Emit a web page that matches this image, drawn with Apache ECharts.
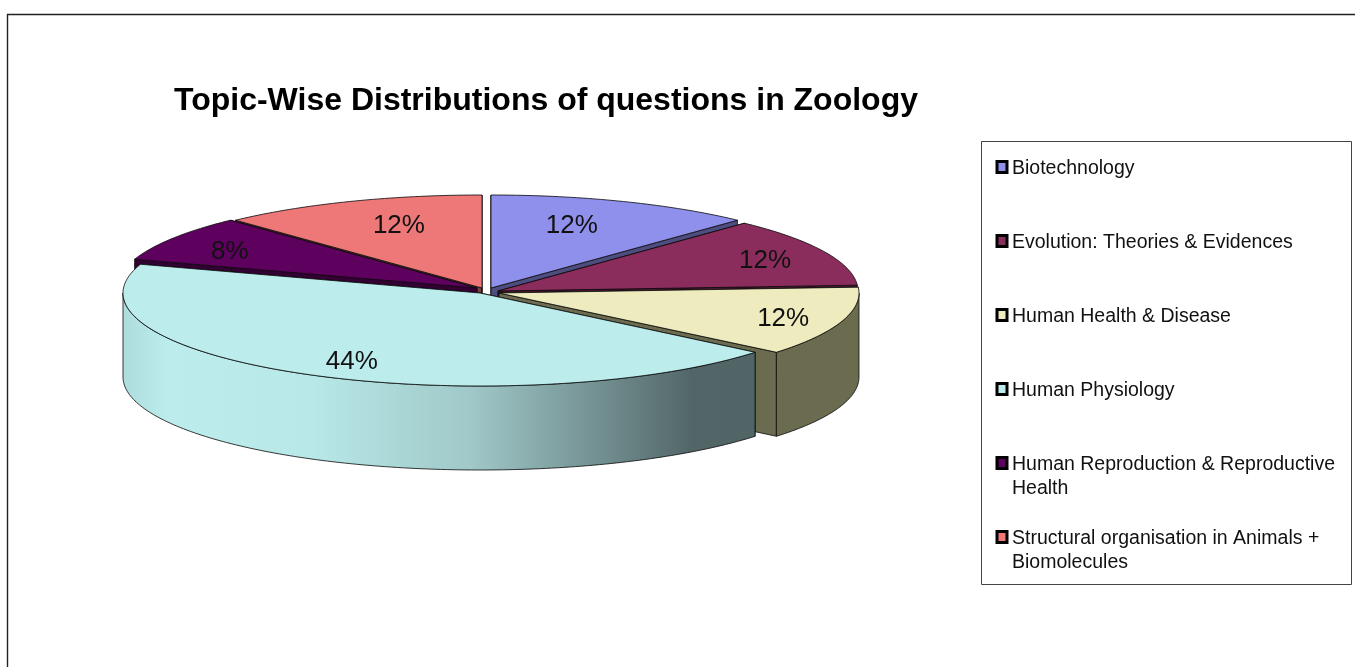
<!DOCTYPE html>
<html>
<head>
<meta charset="utf-8">
<script src="https://cdn.jsdelivr.net/npm/echarts@6/dist/echarts.min.js"></script>
<style>html,body{margin:0;padding:0;background:#fff}#c{width:1355px;height:667px}</style>
</head>
<body>
<div id="c"></div>
<script>
const titleText = 'Topic-Wise Distributions of questions in Zoology';
const categories = ['Biotechnology', 'Evolution: Theories & Evidences', 'Human Health & Disease', 'Human Physiology', 'Human Reproduction & Reproductive Health', 'Structural organisation in Animals + Biomolecules'];
const shares = [12, 12, 12, 44, 8, 12];

// styling and layout, separate from the data
const topColors = ['#8F8FEC', '#8B2D5C', '#EEECBE', '#BCECEC', '#5E005E', '#EE7777'];
const wallColors = ['#4D4D80', '#4B1832', '#6B6B50', '#516567', '#330033', '#803F3F'];
const sliceCentres = [[491, 288], [498, 291], [499, 293], [480, 293], [477, 288], [482, 288]];
const sliceRadiiX = [360, 360, 360, 357, 360, 360];
const labelFactors = [[.61, .717], [.82, .76], [.83, .905], [.745, .84], [.813, .72], [.627, .717]];
const paintOrder = [0, 5, 1, 4, 2, 3];
const radiusY = 93, depth = 84;

const total = shares.reduce((a, b) => a + b, 0);
const startAngles = [];
shares.reduce((acc, v, i) => { startAngles[i] = acc; return acc + v / total * 360; }, 0);

function rimPoint(i, deg, drop) {
  const t = deg * Math.PI / 180, c = sliceCentres[i];
  return [c[0] + sliceRadiiX[i] * Math.sin(t), c[1] - radiusY * Math.cos(t) + (drop || 0)];
}
function arcPoints(i, a, b, drop) {
  const pts = [], n = Math.max(2, Math.ceil(Math.abs(b - a)));
  for (let k = 0; k <= n; k++) pts.push(rimPoint(i, a + (b - a) * k / n, drop));
  return pts;
}
const edge = (fill) => ({ fill, stroke: 'rgba(10,10,10,0.8)', lineWidth: 1, lineJoin: 'round' });

function wallFill(i) {
  if (i !== 3) return wallColors[i];
  return new echarts.graphic.LinearGradient(0, 0, 1, 0, [
    { offset: 0, color: '#AEDCDC' }, { offset: 0.07, color: '#BCECEC' },
    { offset: 0.3, color: '#B8E8E8' }, { offset: 0.55, color: '#A0C8C8' },
    { offset: 0.9, color: '#526668' }, { offset: 1, color: wallColors[3] }
  ]);
}

function renderSlice(i) {
  const c = sliceCentres[i], a = startAngles[i], b = a + shares[i] / total * 360;
  const children = [];
  [a, b].forEach((deg) => {
    const p = rimPoint(i, deg);
    children.push({ type: 'polygon', shape: { points: [c, p, [p[0], p[1] + depth], [c[0], c[1] + depth]] }, style: edge(wallColors[i]) });
  });
  const fa = Math.max(a, 90), fb = Math.min(b, 270);
  if (fb > fa) {
    const top = arcPoints(i, fa, fb, 0), bottom = arcPoints(i, fb, fa, depth);
    children.push({ type: 'polygon', shape: { points: top.concat(bottom) }, style: edge(wallFill(i)) });
  }
  children.push({ type: 'polygon', shape: { points: [c].concat(arcPoints(i, a, b, 0)) }, style: edge(topColors[i]) });
  const mid = (a + b) / 2 * Math.PI / 180, f = labelFactors[i];
  children.push({
    type: 'text',
    style: {
      text: shares[i] + '%',
      x: c[0] + f[0] * sliceRadiiX[i] * Math.sin(mid),
      y: c[1] - f[1] * radiusY * Math.cos(mid),
      align: 'center', verticalAlign: 'middle',
      font: '26px "Liberation Sans", Arial, sans-serif', fill: '#111'
    }
  });
  return { type: 'group', children };
}

const series = paintOrder.map((i) => ({
  type: 'custom',
  name: categories[i],
  coordinateSystem: 'none',
  silent: true,
  itemStyle: { color: topColors[i] },
  data: [[shares[i]]],
  renderItem: () => renderSlice(i)
}));

const legendBreaks = { 'Reproductive Health': 'Reproductive', 'Animals + Biomolecules': 'Animals +' };
const legendSecondLines = { 'Reproductive Health': 'Health', 'Animals + Biomolecules': 'Biomolecules' };
function legendText(name) {
  for (const k in legendBreaks) {
    if (name.endsWith(k)) return '{s| }\n{t|' + name.replace(k, legendBreaks[k]) + '}\n{t|' + legendSecondLines[k] + '}';
  }
  return '{s| }\n{t|' + name + '}\n{t| }';
}

const chart = echarts.init(document.getElementById('c'), null, { renderer: 'canvas' });
const legendFont = { fontFamily: '"Liberation Sans", Arial, sans-serif', fontSize: 19.5, color: '#111' };
chart.setOption({
  animation: false,
  backgroundColor: '#fff',
  title: {
    text: titleText, left: 174, top: 85, padding: 0,
    textStyle: { fontFamily: '"Liberation Sans", Arial, sans-serif', fontWeight: 'bold', fontSize: 32, color: '#000' }
  },
  legend: {
    data: categories, orient: 'vertical', left: 995.5, top: 133, padding: 0,
    itemGap: 4, itemWidth: 10, itemHeight: 11, icon: 'rect',
    itemStyle: { borderColor: '#000', borderWidth: 3 },
    formatter: legendText, selectedMode: false,
    textStyle: Object.assign({}, legendFont, {
      rich: {
        s: Object.assign({}, legendFont, { lineHeight: 28 }),
        t: Object.assign({}, legendFont, { lineHeight: 24 })
      }
    })
  },
  graphic: [
    { type: 'rect', silent: true, shape: { x: 7.5, y: 14.5, width: 1400, height: 700 }, style: { fill: 'none', stroke: '#222', lineWidth: 1.4 } },
    { type: 'rect', silent: true, shape: { x: 981.5, y: 141.5, width: 370, height: 443 }, style: { fill: 'none', stroke: '#444', lineWidth: 1 } }
  ],
  series
});
</script>
</body>
</html>
